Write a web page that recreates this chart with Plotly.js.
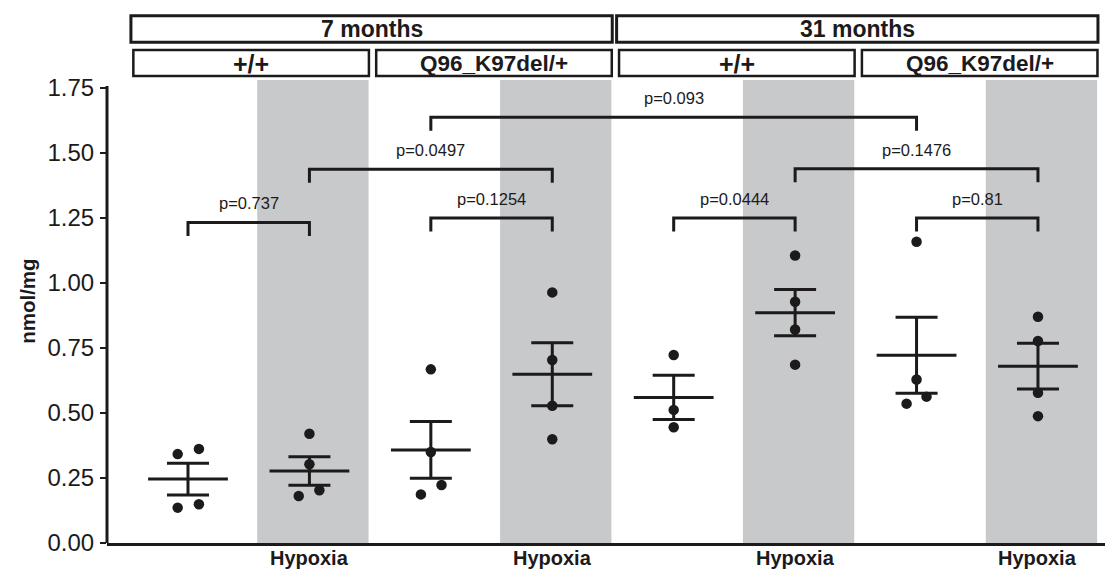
<!DOCTYPE html>
<html>
<head>
<meta charset="utf-8">
<script src="https://cdn.plot.ly/plotly-3.0.1.min.js"></script>
<style>html,body{margin:0;padding:0;background:#fff;}#chart{width:1105px;height:569px;}</style>
</head>
<body>
<div id="chart"></div>
<script>
// ---- data ----
const groupNames = ['7 mo +/+ normoxia','7 mo +/+ hypoxia','7 mo Q96_K97del/+ normoxia','7 mo Q96_K97del/+ hypoxia',
                    '31 mo +/+ normoxia','31 mo +/+ hypoxia','31 mo Q96_K97del/+ normoxia','31 mo Q96_K97del/+ hypoxia'];
const xTickText = ['Hypoxia','Hypoxia','Hypoxia','Hypoxia'];
const xTickGroups = [1,3,5,7];
const ageLabels = ['7 months','31 months'];
const genotypeLabels = ['+/+','Q96_K97del/+','+/+','Q96_K97del/+'];

const wt7Normoxia   = [0.342, 0.362, 0.136, 0.149];
const wt7Hypoxia    = [0.420, 0.303, 0.181, 0.203];
const mut7Normoxia  = [0.668, 0.350, 0.223, 0.187];
const mut7Hypoxia   = [0.964, 0.704, 0.528, 0.399];
const wt31Normoxia  = [0.723, 0.512, 0.445];
const wt31Hypoxia   = [1.106, 0.928, 0.821, 0.686];
const mut31Normoxia = [1.159, 0.629, 0.563, 0.536];
const mut31Hypoxia  = [0.870, 0.777, 0.578, 0.488];

const groupMeans = [0.246, 0.277, 0.358, 0.649, 0.560, 0.886, 0.722, 0.680];
const groupSEM   = [0.061, 0.055, 0.109, 0.121, 0.085, 0.089, 0.146, 0.088];

const pLabels      = ['p=0.737','p=0.0497','p=0.1254','p=0.093','p=0.0444','p=0.1476','p=0.81'];
const bracketFrom  = [0, 1, 2, 2, 4, 5, 6];
const bracketTo    = [1, 3, 3, 6, 5, 7, 7];
const bracketLevel = [1.233, 1.438, 1.250, 1.638, 1.250, 1.440, 1.250];

// ---- layout helpers (positions / styles) ----
const pointJitter = [
  [-0.085, 0.09, -0.085, 0.09],
  [0, 0, -0.088, 0.082],
  [0, 0, 0.088, -0.082],
  [0, 0, 0, 0],
  [0, 0, 0],
  [0, 0, 0, 0],
  [0, 0, 0.082, -0.082],
  [0, 0, 0, 0]
];
const allGroups = [wt7Normoxia, wt7Hypoxia, mut7Normoxia, mut7Hypoxia, wt31Normoxia, wt31Hypoxia, mut31Normoxia, mut31Hypoxia];
const INK = '#1c1a1b';
const FONT = 'Liberation Sans, Arial, Helvetica, sans-serif';

const px = [], py = [];
allGroups.forEach((vals, g) => vals.forEach((v, i) => { px.push(g + pointJitter[g][i]); py.push(v); }));

const traces = [];
traces.push({
  type: 'scatter', mode: 'markers', x: px, y: py, hoverinfo: 'y',
  marker: {size: 10.5, color: INK}, showlegend: false
});
traces.push({
  type: 'scatter', mode: 'markers', x: groupNames.map((_, i) => i), y: groupMeans,
  text: groupNames, hoverinfo: 'text+y',
  marker: {symbol: 'line-ew', size: 57, color: INK, line: {width: 3, color: INK}},
  error_y: {type: 'data', array: groupSEM, visible: true, color: INK, thickness: 3, width: 21},
  showlegend: false
});
const LEG = 0.052;
const bx = [], by = [];
pLabels.forEach((lab, k) => {
  const a = bracketFrom[k], b = bracketTo[k], h = bracketLevel[k];
  bx.push(a, a, b, b, null); by.push(h - LEG, h, h, h - LEG, null);
});
traces.push({
  type: 'scatter', mode: 'lines', x: bx, y: by, hoverinfo: 'skip',
  line: {color: INK, width: 3}, showlegend: false
});

const shapes = [];
const annotations = [];
// grey hypoxia bands + their labels under the axis
xTickGroups.forEach((g, k) => {
  shapes.push({type: 'rect', layer: 'below', xref: 'x', yref: 'paper', x0: g - 0.43, x1: g + 0.487, y0: 0, y1: 1,
    fillcolor: '#c8c9cb', line: {width: 0}});
  annotations.push({xref: 'x', yref: 'paper', x: g, y: 0, yshift: -3, text: xTickText[k], showarrow: false,
    xanchor: 'center', yanchor: 'top', borderpad: 0,
    font: {family: FONT, size: 20, color: INK, weight: 'bold'}});
});
// y axis line (stops at 1.75)
shapes.push({type: 'line', xref: 'paper', yref: 'y', x0: 0, x1: 0, y0: 0, y1: 1.758, line: {color: INK, width: 3}});
// age header boxes
ageLabels.forEach((lab, k) => {
  const x0 = 4 * k - 0.47, x1 = 4 * k + 3.494;
  shapes.push({type: 'rect', xref: 'x', yref: 'paper', x0: x0, x1: x1, y0: 1.0815, y1: 1.1385,
    line: {color: INK, width: 3}, fillcolor: 'rgba(0,0,0,0)'});
  annotations.push({xref: 'x', yref: 'paper', x: (x0 + x1) / 2, y: 1.110, text: lab, showarrow: false,
    xanchor: 'center', yanchor: 'middle', font: {family: FONT, size: 23, color: INK, weight: 'bold'}});
});
// genotype boxes
genotypeLabels.forEach((lab, k) => {
  const x0 = 2 * k - 0.45, x1 = 2 * k + 1.49;
  shapes.push({type: 'rect', xref: 'x', yref: 'paper', x0: x0, x1: x1, y0: 1.0086, y1: 1.0648,
    line: {color: INK, width: 2.5}, fillcolor: 'rgba(0,0,0,0)'});
  annotations.push({xref: 'x', yref: 'paper', x: (x0 + x1) / 2, y: 1.035, text: lab, showarrow: false,
    xanchor: 'center', yanchor: 'middle', font: {family: FONT, size: lab === '+/+' ? 25 : 22.5, color: INK, weight: 'bold'}});
});
// p value labels
pLabels.forEach((lab, k) => {
  annotations.push({xref: 'x', yref: 'y', x: (bracketFrom[k] + bracketTo[k]) / 2, y: bracketLevel[k], yshift: 19,
    text: lab, showarrow: false, xanchor: 'center', yanchor: 'middle',
    font: {family: FONT, size: 16.5, color: INK}});
});
// y axis title
annotations.push({xref: 'paper', yref: 'paper', x: -0.0792, y: 0.523, text: 'nmol/mg', textangle: -90,
  showarrow: false, xanchor: 'center', yanchor: 'middle', font: {family: FONT, size: 20.5, color: INK, weight: 'bold'}});

const layout = {
  width: 1105, height: 569,
  margin: {l: 107, r: 0, t: 80, b: 26, pad: 0},
  paper_bgcolor: '#ffffff', plot_bgcolor: '#ffffff',
  showlegend: false,
  xaxis: {
    range: [-0.667, 7.552], showticklabels: false,
    showgrid: false, zeroline: false, showline: true, linecolor: INK, linewidth: 3,
    ticks: '', fixedrange: true
  },
  yaxis: {
    range: [0, 1.781], tickvals: [0, 0.25, 0.5, 0.75, 1, 1.25, 1.5, 1.75], tickformat: '.2f',
    showgrid: false, zeroline: false, showline: false,
    ticks: 'outside', ticklen: 6, tickwidth: 2.5, tickcolor: INK, ticklabelstandoff: 1,
    tickfont: {family: FONT, size: 24, color: INK}, fixedrange: true
  },
  shapes: shapes,
  annotations: annotations
};

Plotly.newPlot('chart', traces, layout, {displayModeBar: false, staticPlot: true});
</script>
</body>
</html>
